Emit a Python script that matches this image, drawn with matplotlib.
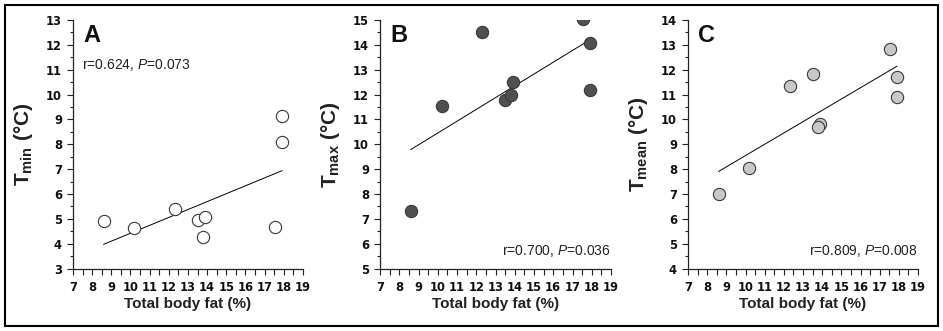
import matplotlib
matplotlib.use('Agg')
import matplotlib.pyplot as plt
import numpy as np
from matplotlib.ticker import MultipleLocator
from matplotlib.patches import Rectangle

plt.rcParams.update({
    'font.family': ['Liberation Sans', 'DejaVu Sans'],
    'font.weight': 'bold',
    'mathtext.fontset': 'custom',
    'mathtext.rm': 'Liberation Sans:normal',
    'mathtext.it': 'Liberation Sans:italic:normal',
    'mathtext.bf': 'Liberation Sans:bold',
    'xtick.labelsize': 8.3,
    'ytick.labelsize': 8.3,
    'xtick.color': '#111111',
    'ytick.color': '#111111',
})

# Total body fat (%) per subject, shared by all three panels
body_fat = [8.6, 10.2, 12.3, 13.5, 13.9, 13.8, 17.55, 17.9, 17.9]

# Skin temperatures (deg C) per subject
t_min = [4.9, 4.64, 5.38, 4.97, 5.07, 4.28, 4.68, 8.08, 9.12]
t_max = [7.32, 11.54, 14.5, 11.8, 12.51, 12.0, 15.03, 14.09, 12.2]
t_mean = [6.99, 8.03, 11.34, 11.82, 9.83, 9.7, 12.82, 11.69, 10.9]

panel_letters = ['A', 'B', 'C']
y_labels = [r'$\mathbf{T_{min}}$ (°C)', r'$\mathbf{T_{max}}$ (°C)', r'$\mathbf{T_{mean}}$ (°C)']
stats_text = [r'r=0.624, $\mathit{P}$=0.073', r'r=0.700, $\mathit{P}$=0.036', r'r=0.809, $\mathit{P}$=0.008']
y_ranges = [(3, 13), (5, 15), (4, 14)]
x_ticks = list(range(7, 20))

fills = ['#ffffff', '#505050', '#c8c8c8']
edge = '#3a3a3a'

W, H = 943, 331
fig = plt.figure(figsize=(W / 100, H / 100), dpi=100)

# thin frame round the whole figure
fig.patches.append(Rectangle((5 / W, 5 / H), 933 / W, 321 / H, transform=fig.transFigure,
                             fill=False, edgecolor='black', linewidth=1.5))

lefts = [73, 380, 688]
widths = [230, 231, 230]
series = [t_min, t_max, t_mean]

for i in range(3):
    ax = fig.add_axes([lefts[i] / W, 1 - 268.5 / H, widths[i] / W, 248.5 / H])
    x = np.array(body_fat)
    y = np.array(series[i])

    # least-squares regression line over the observed range
    slope, intercept = np.polyfit(x, y, 1)
    xs = np.array([x.min(), x.max()])
    ax.plot(xs, slope * xs + intercept, color='black', linewidth=0.7, zorder=2)

    ax.scatter(x, y, s=78, facecolor=fills[i], edgecolor=edge, linewidth=0.8, zorder=3)

    y_lo, y_hi = y_ranges[i]
    ax.set_xlim(x_ticks[0], x_ticks[-1])
    ax.set_ylim(y_lo, y_hi)
    ax.set_xticks(x_ticks)
    ax.set_yticks(list(range(y_lo, y_hi + 1)))
    ax.xaxis.set_minor_locator(MultipleLocator(0.5))
    ax.yaxis.set_minor_locator(MultipleLocator(0.5))

    for side in ['top', 'right']:
        ax.spines[side].set_visible(False)
    for side in ['left', 'bottom']:
        ax.spines[side].set_linewidth(0.9)
        ax.spines[side].set_color('#222222')

    ax.tick_params(axis='both', which='major', length=4, width=0.8, color='#222222',
                   labelfontfamily='DejaVu Sans')
    ax.tick_params(axis='x', which='minor', length=4, width=0.8, color='#222222')
    ax.tick_params(axis='y', which='minor', length=2.2, width=0.8, color='#222222')
    ax.tick_params(axis='x', which='major', pad=5)
    ax.tick_params(axis='y', which='major', pad=4)

    ax.set_xlabel('Total body fat (%)', fontsize=11, fontweight='bold', color='#222222')
    ax.xaxis.set_label_coords(0.5, -0.116)
    ax.set_ylabel(y_labels[i], fontsize=15, fontweight='bold', color='#222222')
    ax.yaxis.set_label_coords(-0.165, 0.5)

    ax.text(0.045, 0.912, panel_letters[i], transform=ax.transAxes, fontsize=17,
            fontweight='bold', ha='left', va='baseline', color='#111111')

    if i == 0:
        ax.text(0.039, 0.82, stats_text[i], transform=ax.transAxes, fontsize=10,
                fontweight='normal', ha='left', va='center', color='#222222')
    else:
        ax.text(1.0, 0.07, stats_text[i], transform=ax.transAxes, fontsize=10,
                fontweight='normal', ha='right', va='center', color='#222222')

fig.savefig('out.png', dpi=100)
